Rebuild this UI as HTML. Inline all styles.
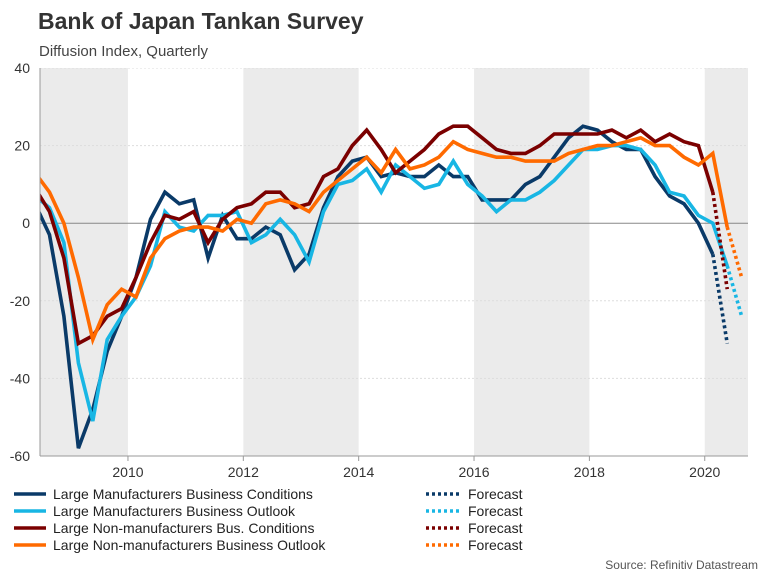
<!DOCTYPE html>
<html><head><meta charset="utf-8">
<style>
body{margin:0;background:#fff;font-family:"Liberation Sans",sans-serif;}
#wrap{position:relative;width:768px;height:576px;overflow:hidden;}
</style></head>
<body>
<div id="wrap">
<svg id="chart" width="768" height="576" xmlns="http://www.w3.org/2000/svg">
<text x="38" y="29" font-size="23" font-weight="bold" fill="#333">Bank of Japan Tankan Survey</text>
<text x="39" y="56" font-size="15" fill="#444">Diffusion Index, Quarterly</text>
<text x="758" y="569" font-size="12" fill="#555" text-anchor="end">Source: Refinitiv Datastream</text>
</svg>
</div>
<script>
const yTicks=[40,20,0,-20,-40,-60];
const xTickYears=[2010,2012,2014,2016,2018,2020];
const shadeBands=[[2008,2010],[2012,2014],[2016,2018],[2020,2021]];
const startYear=2008.39;
const mfgConditions=[5,-3,-24,-58,-48,-33,-24,-14,1,8,5,6,-9,2,-4,-4,-1,-3,-12,-8,4,12,16,17,12,13,12,12,15,12,12,6,6,6,10,12,17,22,25,24,21,19,19,12,7,5,0,-8];
const mfgConditionsForecast=-31;
const mfgOutlook=[7,4,-5,-36,-51,-30,-24,-19,-11,3,-1,-2,2,2,3,-5,-3,1,-3,-10,3,10,11,14,8,15,12,9,10,16,10,7,3,6,6,8,11,15,19,19,20,20,19,15,8,7,2,0,-11];
const mfgOutlookForecast=-24;
const nonMfgConditions=[9,3,-9,-31,-29,-24,-22,-14,-5,2,1,3,-5,1,4,5,8,8,4,5,12,14,20,24,19,13,16,19,23,25,25,22,19,18,18,20,23,23,23,23,24,22,24,21,23,21,20,8];
const nonMfgConditionsForecast=-17;
const nonMfgOutlook=[13,8,0,-14,-30,-21,-17,-19,-9,-4,-2,-1,-1,-2,1,0,5,6,5,3,8,11,14,17,13,19,14,15,17,21,19,18,17,17,16,16,16,18,19,20,20,21,22,20,20,17,15,18,-1];
const nonMfgOutlookForecast=-14;
const seriesNames=["Large Manufacturers Business Conditions","Large Manufacturers Business Outlook","Large Non-manufacturers Bus. Conditions","Large Non-manufacturers Business Outlook"];

const NS="http://www.w3.org/2000/svg";
const svg=document.getElementById('chart');
const L=40,R=748,T=68,B=456;
const x0Year=2008.475,x1Year=2020.75;
const X=t=>L+(t-x0Year)/(x1Year-x0Year)*(R-L);
const Y=v=>T+(40-v)/100*(B-T);
function mk(tag,attrs,parent){const e=document.createElementNS(NS,tag);for(const k in attrs)e.setAttribute(k,attrs[k]);(parent||svg).appendChild(e);return e;}
const defs=mk('defs',{});
const cp=mk('clipPath',{id:'clip'},defs);mk('rect',{x:L,y:T,width:R-L,height:B-T},cp);
const plot=mk('g',{'clip-path':'url(#clip)'});


shadeBands.forEach(b=>{const r=mk('rect',{x:X(b[0]),y:T,width:X(b[1])-X(b[0]),height:B-T,fill:'#ebebeb'},plot);

});
yTicks.forEach(v=>{
 if(v!==0&&v!==-60){const g=mk('line',{x1:L,x2:R,y1:Y(v),y2:Y(v),stroke:'#ddd','stroke-dasharray':'2,2'},plot);
 
 }
 const t=mk('text',{x:30,y:Y(v)+5,'font-size':14,fill:'#333','text-anchor':'end'});t.textContent=v;
 
 
});
const zl=mk('line',{x1:L,x2:R,y1:Y(0),y2:Y(0),stroke:'#888','stroke-width':1},plot);


const colors=['#0a3a68','#18b6e4','#7b0000','#ff6a00'];
const allS=[[mfgConditions,mfgConditionsForecast],[mfgOutlook,mfgOutlookForecast],[nonMfgConditions,nonMfgConditionsForecast],[nonMfgOutlook,nonMfgOutlookForecast]];
allS.forEach((s,k)=>{
 const pts=s[0].map((v,i)=>X(startYear+0.25*i).toFixed(1)+','+Y(v).toFixed(1));
 const p=mk('polyline',{points:pts.join(' '),fill:'none',stroke:colors[k],'stroke-width':3.6,'stroke-linejoin':'miter'},plot);
 
 
 const n=s[0].length;
 const f=mk('line',{x1:X(startYear+0.25*(n-1)),y1:Y(s[0][n-1]),x2:X(startYear+0.25*n),y2:Y(s[1]),stroke:colors[k],'stroke-width':3.6,'stroke-dasharray':'3,3'},plot);
 
 
});
mk('line',{x1:L,x2:L,y1:T,y2:B,stroke:'#999'});
mk('line',{x1:L,x2:R,y1:B,y2:B,stroke:'#999'});
xTickYears.forEach(yr=>{
 mk('line',{x1:X(yr),x2:X(yr),y1:B,y2:B+5,stroke:'#999'});
 const t=mk('text',{x:X(yr),y:B+21,'font-size':14,fill:'#333','text-anchor':'middle'});t.textContent=yr;
 
 
});
seriesNames.forEach((nm,k)=>{
 const y=494+k*17;
 const g=mk('g',{});
 
 
 mk('line',{x1:14,x2:46,y1:y,y2:y,stroke:colors[k],'stroke-width':3.6},g);
 const t=mk('text',{x:53,y:y+5,'font-size':14,fill:'#222'},g);t.textContent=nm;
 const g2=mk('g',{});
 
 
 mk('line',{x1:426,x2:461,y1:y,y2:y,stroke:colors[k],'stroke-width':3.6,'stroke-dasharray':'3,3'},g2);
 const t2=mk('text',{x:468,y:y+5,'font-size':14,fill:'#222'},g2);t2.textContent='Forecast';
});
</script>
</body></html>
